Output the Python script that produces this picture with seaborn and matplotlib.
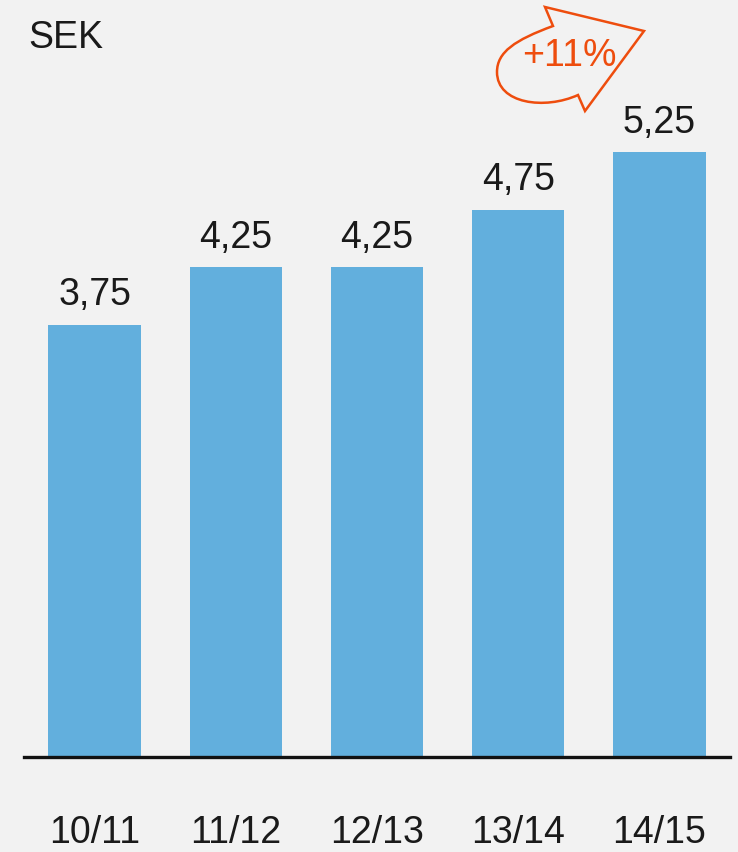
import matplotlib
matplotlib.use("Agg")
import matplotlib.pyplot as plt
from matplotlib.path import Path
from matplotlib.patches import PathPatch
import seaborn as sns
import pandas as pd

seasons = ["10/11", "11/12", "12/13", "13/14", "14/15"]
dividend = [3.75, 4.25, 4.25, 4.75, 5.25]
unit_label = "SEK"
growth_label = "+11%"

BG = "#f2f2f2"
BAR = "#62afdd"
ACCENT = "#ee4d0e"
INK = "#1a1a1a"

sns.set_theme(style="white")
plt.rcParams["font.family"] = ["Liberation Sans", "DejaVu Sans"]

W, H = 738, 852
fig = plt.figure(figsize=(W / 100, H / 100), dpi=100, facecolor=BG)
ax = fig.add_axes([24 / W, 95 / H, 706 / W, 757 / H], facecolor=BG)

df = pd.DataFrame({"season": seasons, "dividend": dividend})
sns.barplot(data=df, x="season", y="dividend", color=BAR, saturation=1,
            width=0.655, linewidth=0, edgecolor="none", ax=ax)

ax.set_xlim(-0.5, 4.5)
ax.set_ylim(0, 6.57)
ax.set_xlabel("")
ax.set_ylabel("")
ax.set_yticks([])
for side in ("top", "right", "left"):
    ax.spines[side].set_visible(False)
ax.spines["bottom"].set_color("#111111")
ax.spines["bottom"].set_linewidth(2.4)
ax.tick_params(axis="x", length=0, pad=42, labelsize=27, labelcolor=INK)

for i, v in enumerate(dividend):
    ax.annotate(f"{v:.2f}".replace(".", ","), xy=(i, v), xytext=(0, 14),
                textcoords="offset points", ha="center", va="baseline",
                fontsize=27, color=INK)

fig.text(28 / W, 1 - 38 / H, unit_label, ha="left", va="center",
         fontsize=27, color=INK)

# curved growth arrow, laid out in pixel space from the top-left corner
def px(x, y):
    return (x / W, 1 - y / H)

verts = [px(553, 26),
         px(515, 40), px(497, 52), px(497, 72),
         px(497, 104), px(545, 110), px(578, 95),
         px(585, 111),
         px(644, 31),
         px(545, 7),
         px(553, 26)]
codes = [Path.MOVETO,
         Path.CURVE4, Path.CURVE4, Path.CURVE4,
         Path.CURVE4, Path.CURVE4, Path.CURVE4,
         Path.LINETO, Path.LINETO, Path.LINETO, Path.CLOSEPOLY]
arrow = PathPatch(Path(verts, codes), transform=fig.transFigure,
                  facecolor="none", edgecolor=ACCENT, linewidth=1.8,
                  joinstyle="miter")
fig.patches.append(arrow)
fig.text(569 / W, 1 - 56 / H, growth_label, ha="center", va="center",
         fontsize=27, color=ACCENT)

fig.savefig("out.png", dpi=100, facecolor=BG)
